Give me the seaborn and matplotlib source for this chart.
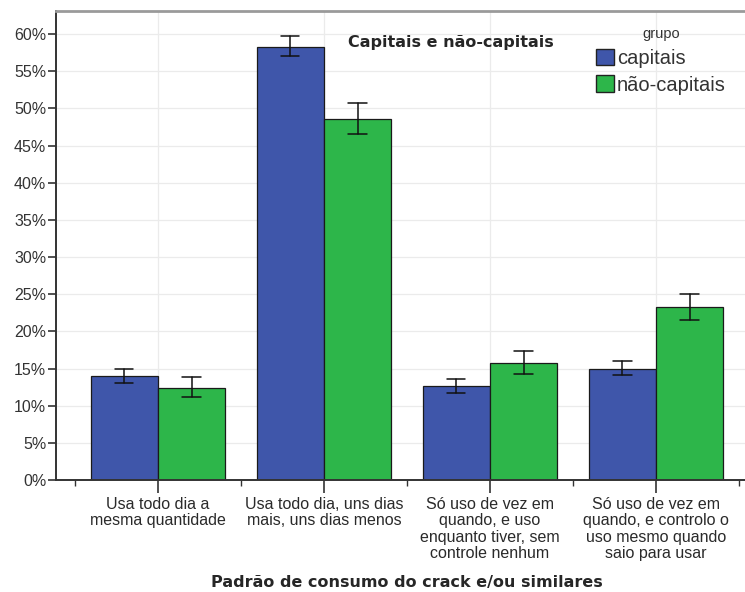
import matplotlib
matplotlib.use("Agg")
import matplotlib.pyplot as plt
import seaborn as sns
import pandas as pd
import numpy as np
from matplotlib.patches import Patch
from matplotlib.ticker import FixedLocator

categories = [
    "Usa todo dia a\nmesma quantidade",
    "Usa todo dia, uns dias\nmais, uns dias menos",
    "Só uso de vez em\nquando, e uso\nenquanto tiver, sem\ncontrole nenhum",
    "Só uso de vez em\nquando, e controlo o\nuso mesmo quando\nsaio para usar",
]
groups = ["capitais", "não-capitais"]
capitais = [14.0, 58.3, 12.6, 15.0]
capitais_lo = [13.0, 57.0, 11.7, 14.1]
capitais_hi = [14.9, 59.8, 13.6, 16.0]
nao_capitais = [12.4, 48.6, 15.75, 23.3]
nao_capitais_lo = [11.1, 46.5, 14.2, 21.5]
nao_capitais_hi = [13.9, 50.7, 17.3, 25.0]
yticks = list(range(0, 61, 5))

colors = {"capitais": "#3F56AA", "não-capitais": "#2DB64A"}

df = pd.DataFrame({
    "cat": categories * 2,
    "grupo": [groups[0]] * 4 + [groups[1]] * 4,
    "val": capitais + nao_capitais,
})

sns.set_style("white")
plt.rcParams["font.family"] = ["Liberation Sans", "DejaVu Sans"]

fig = plt.figure(figsize=(7.45, 5.92), dpi=100)
ax = fig.add_axes([56 / 745, 1 - 480 / 592, 1 - 56 / 745, (480 - 11) / 592])

sns.barplot(data=df, x="cat", y="val", hue="grupo", hue_order=groups,
            order=categories, palette=colors, width=0.81, gap=0,
            saturation=1, errorbar=None, edgecolor="#1a1a1a", linewidth=0.9,
            legend=False, ax=ax, zorder=2)

# error bars
lo_all = {"capitais": capitais_lo, "não-capitais": nao_capitais_lo}
hi_all = {"capitais": capitais_hi, "não-capitais": nao_capitais_hi}
patches = ax.patches
for gi, g in enumerate(groups):
    for ci in range(len(categories)):
        p = patches[gi * len(categories) + ci]
        xc = p.get_x() + p.get_width() / 2
        lo, hi = lo_all[g][ci], hi_all[g][ci]
        ax.plot([xc, xc], [lo, hi], color="#111111", lw=1.1, zorder=3)
        for yy in (lo, hi):
            ax.plot([xc - 0.055, xc + 0.055], [yy, yy], color="#111111", lw=1.1, zorder=3)

ax.set_xlim(-0.614, 3.536)
ax.set_ylim(0, 63.1)
ax.set_yticks(yticks)
ax.set_yticklabels([f"{t}%" for t in yticks], fontsize=11.5, color="#333333")
ax.set_xticks(range(len(categories)))
ax.set_xticklabels(categories, fontsize=11.5, color="#2a2a2a", linespacing=1.12)
ax.xaxis.set_minor_locator(FixedLocator([-0.5, 0.5, 1.5, 2.5, 3.5]))
ax.tick_params(axis="x", which="major", direction="out", length=9, width=1.2,
               color="#333333", bottom=True, pad=3)
ax.tick_params(axis="x", which="minor", direction="out", length=4, width=1.0,
               color="#333333", bottom=True)
ax.tick_params(axis="y", direction="out", length=6, width=1.2, color="#333333",
               left=True, pad=1)

ax.grid(True, axis="both", which="major", color="#ebebeb", lw=0.9, zorder=0)
ax.set_axisbelow(True)

for s in ("left", "bottom"):
    ax.spines[s].set_color("#333333")
    ax.spines[s].set_linewidth(1.4)
ax.spines["top"].set_color("#9a9a9a")
ax.spines["top"].set_linewidth(2)
ax.spines["right"].set_visible(False)

ax.set_ylabel("")
ax.set_xlabel("Padrão de consumo do crack e/ou similares", fontsize=11.5,
              fontweight="bold", family="DejaVu Sans")
ax.xaxis.set_label_coords(0.509, -0.2196)
ax.xaxis.label.set_va("center")

ax.text(0.573, 0.932, "Capitais e não-capitais", transform=ax.transAxes,
        ha="center", va="center", fontsize=11.5, fontweight="bold",
        family="DejaVu Sans")

handles = [Patch(facecolor=colors[g], edgecolor="#222222", label=g) for g in groups]
leg = ax.legend(handles=handles, title="grupo", loc="upper left",
                bbox_to_anchor=(0.763, 0.995), frameon=False, fontsize=14.5,
                title_fontsize=10.5, handlelength=0.9, handleheight=0.9,
                handletextpad=0.15, labelspacing=0.36, borderpad=0.2)
for t in leg.get_texts():
    t.set_color("#333333")
leg.get_title().set_color("#333333")

fig.savefig("out.png", dpi=100)
